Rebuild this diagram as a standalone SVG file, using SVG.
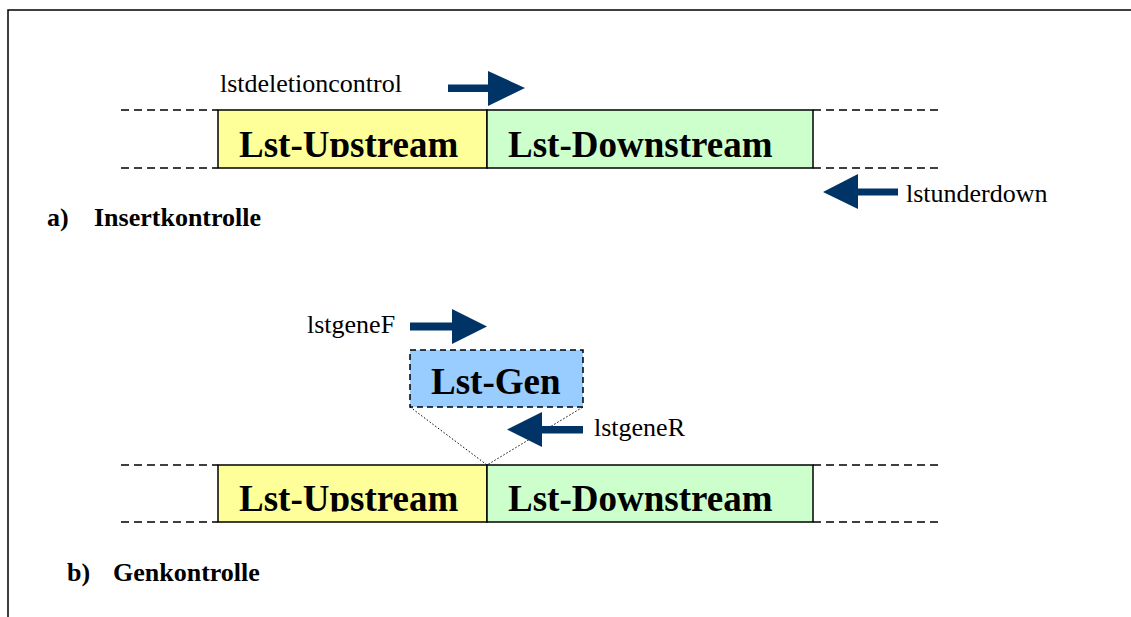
<svg xmlns="http://www.w3.org/2000/svg" width="1131" height="617" viewBox="0 0 1131 617">
<style>
.lbl{font-family:'Liberation Serif','DejaVu Serif',serif;font-size:26px;fill:#000}
.cap{font-family:'Liberation Serif','DejaVu Serif',serif;font-size:26px;font-weight:bold;fill:#000}
.big{font-family:'Liberation Serif','DejaVu Serif',serif;font-size:37px;font-weight:bold;fill:#000}
.box{stroke:#000;stroke-width:1.5}
.dash{stroke:#000;stroke-width:1.5;stroke-dasharray:8 5;fill:none}
.dot{stroke:#000;stroke-width:1;stroke-dasharray:1.5 2;fill:none}
.arr{fill:#003366}
</style>
<defs>
<clipPath id="clipA"><rect x="0" y="0" width="1131" height="157"/></clipPath>
<clipPath id="clipB"><rect x="0" y="300" width="1131" height="211.5"/></clipPath>
</defs>
<rect width="1131" height="617" fill="#fff"/>
<path d="M8 617 V10 H1131" fill="none" stroke="#000" stroke-width="1.5"/>

<g id="connectors">
<path class="dash" d="M121 110 H218 M121 168 H218 M813 110 H943 M813 168 H943"/>
<path class="dash" d="M121 465 H218 M121 522 H218 M813 465 H943 M813 522 H943"/>
<path class="dot" d="M410 407 L487 465 L583 407"/>
</g>

<g id="a-upstream">
<rect class="box" x="218" y="110" width="269" height="58" fill="#ffff99"/>
<text class="big" x="239" y="156.5" clip-path="url(#clipA)">Lst-Upstream</text>
</g>
<g id="a-downstream">
<rect class="box" x="487" y="110" width="326" height="58" fill="#ccffcc"/>
<text class="big" x="508" y="156.5" clip-path="url(#clipA)">Lst-Downstream</text>
</g>

<g id="primer-lstdeletioncontrol">
<text class="lbl" x="220" y="92">lstdeletioncontrol</text>
<polygon class="arr" points="448,84.5 488,84.5 488,71 525,88 488,106 488,92 448,92"/>
</g>
<g id="primer-lstunderdown">
<polygon class="arr" points="898,188.5 858,188.5 858,174 823,192 858,209 858,195.5 898,195.5"/>
<text class="lbl" x="906" y="202">lstunderdown</text>
</g>
<g id="label-a">
<text class="cap" x="47" y="226">a)</text>
<text class="cap" x="94" y="226">Insertkontrolle</text>
</g>

<g id="gen">
<rect x="410" y="350" width="173" height="57" fill="#99ccff" stroke="#000" stroke-width="1.5" stroke-dasharray="6 4"/>
<text class="big" x="431" y="394">Lst-Gen</text>
</g>
<g id="primer-lstgeneF">
<text class="lbl" x="307" y="333">lstgeneF</text>
<polygon class="arr" points="410,322.5 452,322.5 452,309 487,326.5 452,344 452,330.5 410,330.5"/>
</g>
<g id="primer-lstgeneR">
<polygon class="arr" points="583,426 542,426 542,412 507,429.5 542,447 542,433.5 583,433.5"/>
<text class="lbl" x="594" y="436">lstgeneR</text>
</g>

<g id="b-upstream">
<rect class="box" x="218" y="465" width="269" height="57" fill="#ffff99"/>
<text class="big" x="239" y="511" clip-path="url(#clipB)">Lst-Upstream</text>
</g>
<g id="b-downstream">
<rect class="box" x="487" y="465" width="326" height="57" fill="#ccffcc"/>
<text class="big" x="508" y="511" clip-path="url(#clipB)">Lst-Downstream</text>
</g>
<g id="label-b">
<text class="cap" x="67" y="581">b)</text>
<text class="cap" x="113" y="581">Genkontrolle</text>
</g>
</svg>
